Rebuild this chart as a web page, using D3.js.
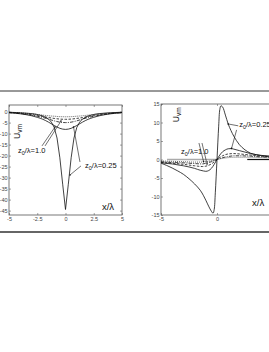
<!DOCTYPE html>
<meta charset="utf-8" />
<script src="https://cdn.jsdelivr.net/npm/d3@7"></script>
<style>
  body { margin: 0; background: #fff; }
  text { font-family: "Liberation Sans", Arial, sans-serif; }
</style>
<svg width="269" height="352" id="fig"></svg>
<script>
  // ---- tick values
  var xTicksL = [-5, -2.5, 0, 2.5, 5];
  var yTicksL = [0, -5, -10, -15, -20, -25, -30, -35, -40, -45];
  var xTicksR = [-5, 0];
  var yTicksR = [15, 10, 5, 0, -5, -10, -15];

  // ---- left panel curves
  var xsDeep = [-5, -4, -3, -2.5, -2, -1.5, -1.25, -1, -0.75, -0.5, -0.25, 0, 0.25, 0.5, 0.75, 1, 1.25, 1.5, 2, 2.5, 3, 4, 5];
  var deepL  = [-0.3, -0.5, -0.9, -1.3, -2.0, -3.4, -4.8, -7.2, -12, -21, -33, -44.5, -33, -21, -12, -7.2, -4.8, -3.4, -2.0, -1.3, -0.9, -0.5, -0.3];
  var xsL    = [-5, -4, -3, -2.5, -2, -1.5, -1, -0.5, 0, 0.5, 1, 1.5, 2, 2.5, 3, 4, 5];
  var solidL = [-0.5, -1.0, -1.9, -2.6, -3.5, -4.8, -6.3, -7.6, -8.1, -7.6, -6.3, -4.8, -3.5, -2.6, -1.9, -1.0, -0.5];
  var dashdotL = [-0.5, -0.9, -1.6, -2.1, -2.7, -3.4, -4.2, -4.8, -5.0, -4.8, -4.2, -3.4, -2.7, -2.1, -1.6, -0.9, -0.5];
  var dashL  = [-0.4, -0.8, -1.4, -1.8, -2.2, -2.7, -3.1, -3.4, -3.5, -3.4, -3.1, -2.7, -2.2, -1.8, -1.4, -0.8, -0.4];
  var dotL   = [-0.3, -0.6, -1.0, -1.3, -1.6, -1.9, -2.1, -2.3, -2.35, -2.3, -2.1, -1.9, -1.6, -1.3, -1.0, -0.6, -0.3];

  // ---- right panel curves
  var xsBig = [-5, -4.5, -4, -3.5, -3, -2.5, -2, -1.5, -1.2, -1, -0.75, -0.5, -0.35, -0.25, -0.15, 0, 0.15, 0.25, 0.35, 0.5, 0.75, 1, 1.25, 1.5, 2, 2.5, 3, 3.5, 4, 4.5, 5];
  var bigR  = [-1.0, -1.6, -2.3, -3.1, -4.0, -5.2, -6.6, -8.3, -9.8, -11, -12.6, -14.0, -14.5, -13.5, -9, 0, 9, 13.5, 14.5, 14.2, 12, 9.6, 7.8, 6.3, 4.0, 2.6, 1.7, 1.3, 1.0, 0.9, 0.8];
  var xsR2  = [-5, -4, -3, -2, -1.5, -1.2, -1, -0.75, -0.5, -0.25, 0, 0.25, 0.5, 0.75, 1, 1.25, 1.5, 2, 2.5, 3, 4, 5];
  var solidR = [-0.9, -1.2, -1.7, -2.4, -2.9, -3.1, -3.2, -3.0, -2.4, -1.3, 0, 1.2, 2.1, 2.6, 2.9, 2.95, 2.8, 2.4, 2.0, 1.6, 1.1, 0.8];
  var xsR   = [-5, -4, -3, -2, -1.3, -1, -0.5, 0, 0.5, 1, 1.5, 2, 3, 4, 5];
  var dashR = [-0.8, -1.0, -1.3, -1.7, -1.9, -1.8, -1.2, 0, 1.0, 1.5, 1.6, 1.5, 1.2, 0.9, 0.7];
  var dashdotR = [-0.6, -0.8, -0.9, -1.1, -1.2, -1.0, -0.6, 0, 0.5, 0.8, 1.0, 1.0, 0.9, 0.7, 0.6];
  var dotR  = [-0.4, -0.5, -0.6, -0.7, -0.7, -0.6, -0.35, 0, 0.3, 0.5, 0.6, 0.6, 0.6, 0.5, 0.4];

  var svg = d3.select("#fig");

  // horizontal rules framing the figure
  svg.append("line").attr("x1", 0).attr("x2", 269).attr("y1", 91).attr("y2", 91)
    .attr("stroke", "#333").attr("stroke-width", 1);
  svg.append("line").attr("x1", 0).attr("x2", 269).attr("y1", 232).attr("y2", 232)
    .attr("stroke", "#333").attr("stroke-width", 1.5);

  function zip(xs, ys) { return xs.map(function (v, i) { return [v, ys[i]]; }); }

  function styleAxis(a) {
    a.select(".domain").remove();
    a.selectAll("line").attr("stroke", "#666").attr("stroke-width", 0.6);
    a.selectAll("text").attr("fill", "#444").style("font-size", "5.5px");
  }

  function subLabel(g, px, py, main, sub, rest, size) {
    var t = g.append("text").attr("x", px).attr("y", py).style("font-size", size + "px").attr("fill", "#111");
    t.append("tspan").text(main);
    t.append("tspan").attr("dy", 1.6).style("font-size", (size * 0.72) + "px").text(sub);
    t.append("tspan").attr("dy", -1.6).text(rest);
  }

  function panel(p) {
    var g = svg.append("g");
    var x = d3.scaleLinear().domain([-5, 5]).range(p.xr);
    var y = d3.scaleLinear().domain(p.yd).range([215, p.top]);

    g.append("g").attr("transform", "translate(0,215)")
      .call(d3.axisBottom(x).tickValues(p.xt).tickSize(-2).tickPadding(2.5).tickFormat(String)).call(styleAxis);
    g.append("g").attr("transform", "translate(0," + p.top + ")")
      .call(d3.axisTop(x).tickValues(p.xt).tickSize(-2).tickFormat("")).call(styleAxis);
    g.append("g").attr("transform", "translate(" + p.xr[0] + ",0)")
      .call(d3.axisLeft(y).tickValues(p.yt).tickSize(-2).tickPadding(1.5).tickFormat(String)).call(styleAxis);
    g.append("g").attr("transform", "translate(" + p.xr[1] + ",0)")
      .call(d3.axisRight(y).tickValues(p.yt).tickSize(-2).tickFormat("")).call(styleAxis);

    g.append("rect").attr("x", p.xr[0]).attr("y", p.top)
      .attr("width", p.xr[1] - p.xr[0]).attr("height", 215 - p.top)
      .attr("fill", "none").attr("stroke", "#555").attr("stroke-width", 0.8);

    (p.zero || []).forEach(function (z) {
      g.append("line").attr("x1", x(z[0])).attr("x2", x(z[1])).attr("y1", y(0)).attr("y2", y(0))
        .attr("stroke", z[2]).attr("stroke-width", z[3]);
    });

    p.curves.forEach(function (c) {
      var line = d3.line().x(function (d) { return x(d[0]); }).y(function (d) { return y(d[1]); })
        .curve(c.curve || d3.curveMonotoneX);
      g.append("path").datum(zip(c.xs, c.ys)).attr("d", line)
        .attr("fill", "none").attr("stroke", "#111").attr("stroke-width", 0.8)
        .attr("stroke-dasharray", c.dash || null);
    });

    // leader lines of the annotations
    p.leaders.forEach(function (l) {
      g.append("line").attr("x1", x(l[0])).attr("y1", y(l[1])).attr("x2", x(l[2])).attr("y2", y(l[3]))
        .attr("stroke", "#111").attr("stroke-width", 0.6);
      g.append("circle").attr("cx", x(l[2])).attr("cy", y(l[3])).attr("r", 0.8).attr("fill", "#111");
    });
    p.labels.forEach(function (l) {
      subLabel(g, x(l[0]), y(l[1]), "z", "0", "/\u03bb=" + l[2], 7.5);
    });

    // axis titles
    var u = g.append("text").attr("transform", "translate(" + x(p.uPos[0]) + "," + y(p.uPos[1]) + ") rotate(-90)")
      .style("font-size", "8.5px").attr("fill", "#111");
    u.append("tspan").text("U");
    u.append("tspan").attr("dy", 2).style("font-size", "6.5px").text("vm");
    g.append("text").attr("x", x(p.xlPos[0])).attr("y", y(p.xlPos[1]))
      .style("font-size", "9.5px").attr("fill", "#111").text("x/\u03bb");
  }

  panel({
    xr: [9, 122], yd: [-47, 3], top: 105, xt: xTicksL, yt: yTicksL,
    curves: [
      { xs: xsDeep, ys: deepL, curve: d3.curveLinear },
      { xs: xsL, ys: solidL },
      { xs: xsL, ys: dashdotL, dash: "3.5,1.2,1,1.2" },
      { xs: xsL, ys: dashL, dash: "2.5,1.5" },
      { xs: xsL, ys: dotL, dash: "0.8,1.2" }
    ],
    leaders: [[-2.08, -15.6, -0.93, -7.0], [-1.81, -15.6, -0.4, -4.3],
              [1.37, -24.7, 0.4, -28.8], [1.28, -22.9, 0.71, -7.0]],
    labels: [[-4.2, -18.8, "1.0"], [1.73, -25.6, "0.25"]],
    uPos: [-4.07, -12.45], xlPos: [3.23, -44.7]
  });

  panel({
    xr: [161, 273], yd: [-15, 15], top: 104, xt: xTicksR, yt: yTicksR,
    zero: [[-4.46, 0, "#aaa", 1.6], [2.7, 5, "#111", 1.2]],
    curves: [
      { xs: xsBig, ys: bigR, curve: d3.curveCatmullRom },
      { xs: xsR2, ys: solidR },
      { xs: xsR, ys: dashR, dash: "2.5,1.5" },
      { xs: xsR, ys: dashdotR, dash: "3.5,1.2,1,1.2" },
      { xs: xsR, ys: dotR, dash: "0.8,1.2" }
    ],
    leaders: [[1.9, 9.1, 1.0, 9.6], [1.75, 8.0, 1.3, 3.0],
              [-1.61, 4.46, -1.2, -0.54], [-1.34, 4.46, -0.89, -1.2]],
    labels: [[-3.21, 1.5, "1.0"], [1.98, 8.65, "0.25"]],
    uPos: [-3.35, 10.1], xlPos: [3.125, -12.6]
  });
</script>
